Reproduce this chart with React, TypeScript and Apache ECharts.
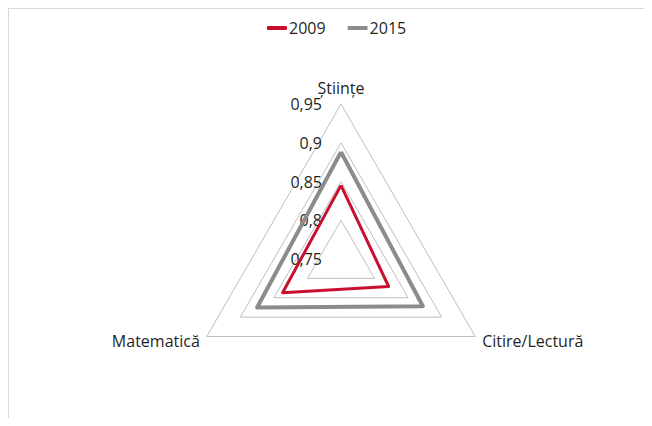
import React, { useEffect, useRef } from "react";
import * as echarts from "echarts";

const indicators = ["Științe", "Matematică", "Citire/Lectură"];
const seriesNames = ["2009", "2015"];
const values2009 = [0.845, 0.837, 0.821];
const values2015 = [0.888, 0.875, 0.872];
const axisMin = 0.75;
const axisMax = 0.95;

const FONT = "'Open Sans', sans-serif";
const TEXT = "#1f1f1f";

export default function App() {
  const ref = useRef<HTMLDivElement>(null);
  useEffect(() => {
    if (!ref.current) return;
    const chart = echarts.init(ref.current, null, { renderer: "svg" });
    chart.setOption({
      animation: false,
      backgroundColor: "#ffffff",
      legend: {
        data: seriesNames,
        left: 253,
        top: 6,
        icon: "roundRect",
        itemWidth: 20,
        itemHeight: 4,
        itemGap: 22,
        textStyle: { fontSize: 16, color: TEXT, fontFamily: FONT, padding: [0, 0, 0, -3] },
      },
      radar: {
        center: [332, 250],
        radius: 155,
        startAngle: 90,
        shape: "polygon",
        splitNumber: 4,
        nameGap: 8,
        axisName: { color: TEXT, fontSize: 16, fontFamily: FONT },
        indicator: indicators.map((name, i) => ({
          name,
          min: axisMin,
          max: axisMax,
          ...(i === 0 ? { axisLabel: { show: true } } : {}),
        })),
        splitLine: { lineStyle: { color: "#bfbfbf", width: 1 } },
        splitArea: { show: false },
        axisLine: { show: false },
        axisTick: { show: false },
        axisLabel: {
          show: false,
          margin: 19,
          color: TEXT,
          fontSize: 16,
          fontFamily: FONT,
          formatter: (v: number) => String(Number(v.toFixed(2))).replace(".", ","),
        },
      },
      series: [
        {
          type: "radar",
          symbol: "none",
          data: [
            {
              name: seriesNames[0],
              value: values2009,
              lineStyle: { color: "#c8102e", width: 3 },
              itemStyle: { color: "#c8102e" },
            },
            {
              name: seriesNames[1],
              value: values2015,
              lineStyle: { color: "#8c8c8c", width: 4 },
              itemStyle: { color: "#8c8c8c" },
            },
          ],
        },
      ],
    });
    return () => chart.dispose();
  }, []);
  return (
    <div
      style={{
        width: 644,
        height: 410,
        borderTop: "1px solid #d9d9d9",
        borderLeft: "1px solid #d9d9d9",
        boxSizing: "border-box",
      }}
    >
      <div ref={ref} style={{ width: 643, height: 409 }} />
    </div>
  );
}
